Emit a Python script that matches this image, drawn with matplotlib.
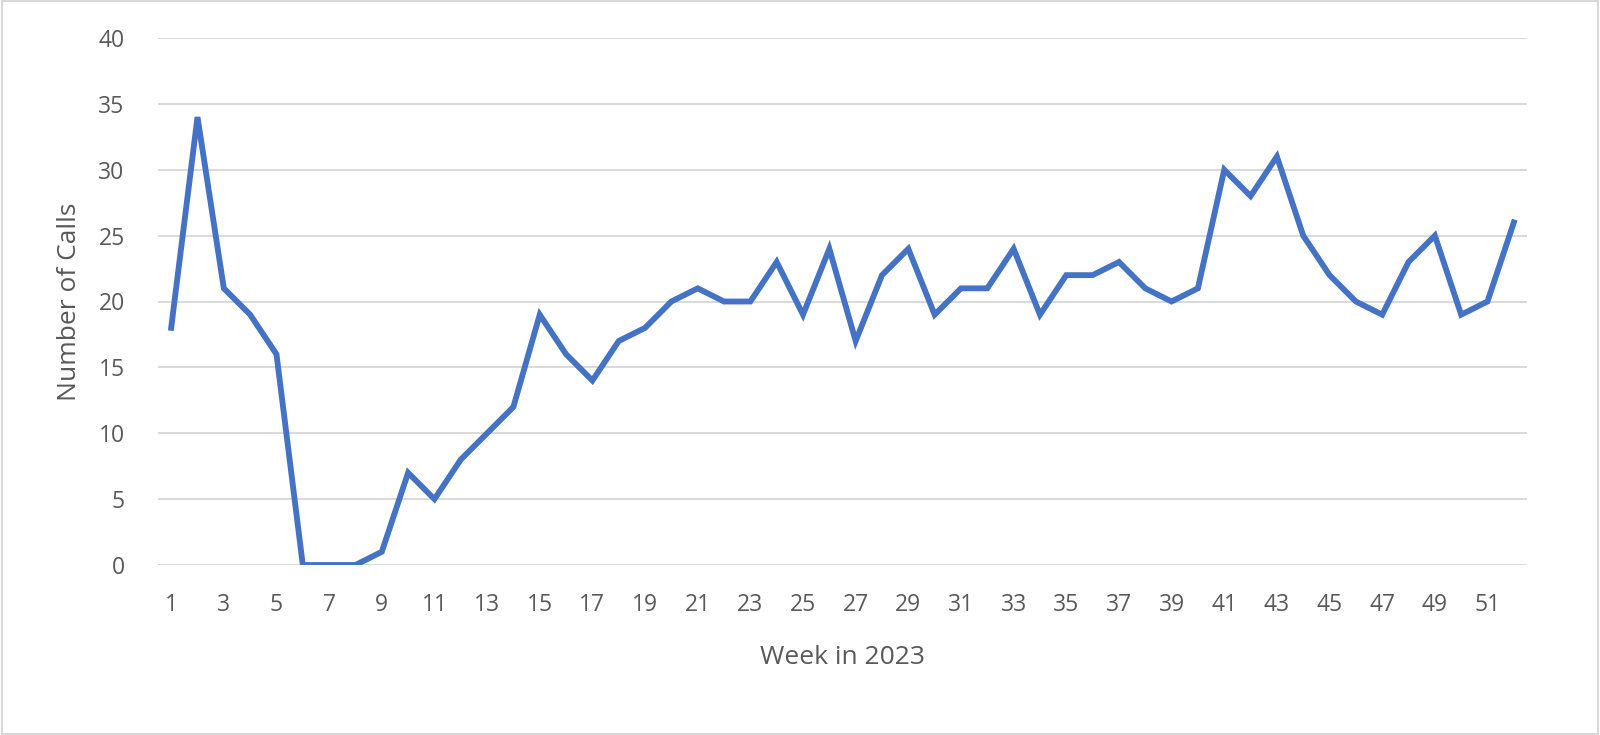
import matplotlib
matplotlib.use("Agg")
import matplotlib.pyplot as plt
from matplotlib.patches import Rectangle

weeks = list(range(1, 53))
calls = [18, 34, 21, 19, 16, 0, 0, 0, 1, 7, 5, 8, 10, 12, 19, 16, 14, 17, 18, 20,
         21, 20, 20, 23, 19, 24, 17, 22, 24, 19, 21, 21, 24, 19, 22, 22, 23, 21, 20, 21,
         30, 28, 31, 25, 22, 20, 19, 23, 25, 19, 20, 26]
xtick_labels = [str(w) for w in range(1, 53, 2)]
yticks = [0, 5, 10, 15, 20, 25, 30, 35, 40]

plt.rcParams['font.family'] = ['Open Sans', 'DejaVu Sans']

fig = plt.figure(figsize=(16, 7.35), dpi=100)
ax = fig.add_axes([158/1600, 1-565/735, (1527-158)/1600, (565-38)/735])

ax.plot(weeks, calls, color='#4472C4', linewidth=4.2, solid_joinstyle='miter', zorder=3)

ax.set_xlim(0.5, 52.5)
ax.set_ylim(0, 40)
ax.set_yticks(yticks)
ax.set_xticks(list(range(1, 53, 2)))
ax.set_xticklabels(xtick_labels)
ax.grid(axis='y', color='#D9D9D9', linewidth=1.4)
ax.set_axisbelow(True)
for s in ax.spines.values():
    s.set_visible(False)
ax.tick_params(axis='both', length=0, labelsize=16.5, colors='#595959')
ax.tick_params(axis='x', pad=20)
ax.tick_params(axis='y', pad=24)
ax.set_xlabel('Week in 2023', fontsize=19, color='#595959', labelpad=20)
ax.set_ylabel('Number of Calls', fontsize=19, color='#595959', labelpad=12)

fig.patches.append(Rectangle((0.001, 0.001), 0.998, 0.997, transform=fig.transFigure,
                             fill=False, edgecolor='#D9D9D9', linewidth=1.5))

fig.savefig('out.png', dpi=100, facecolor='white')
